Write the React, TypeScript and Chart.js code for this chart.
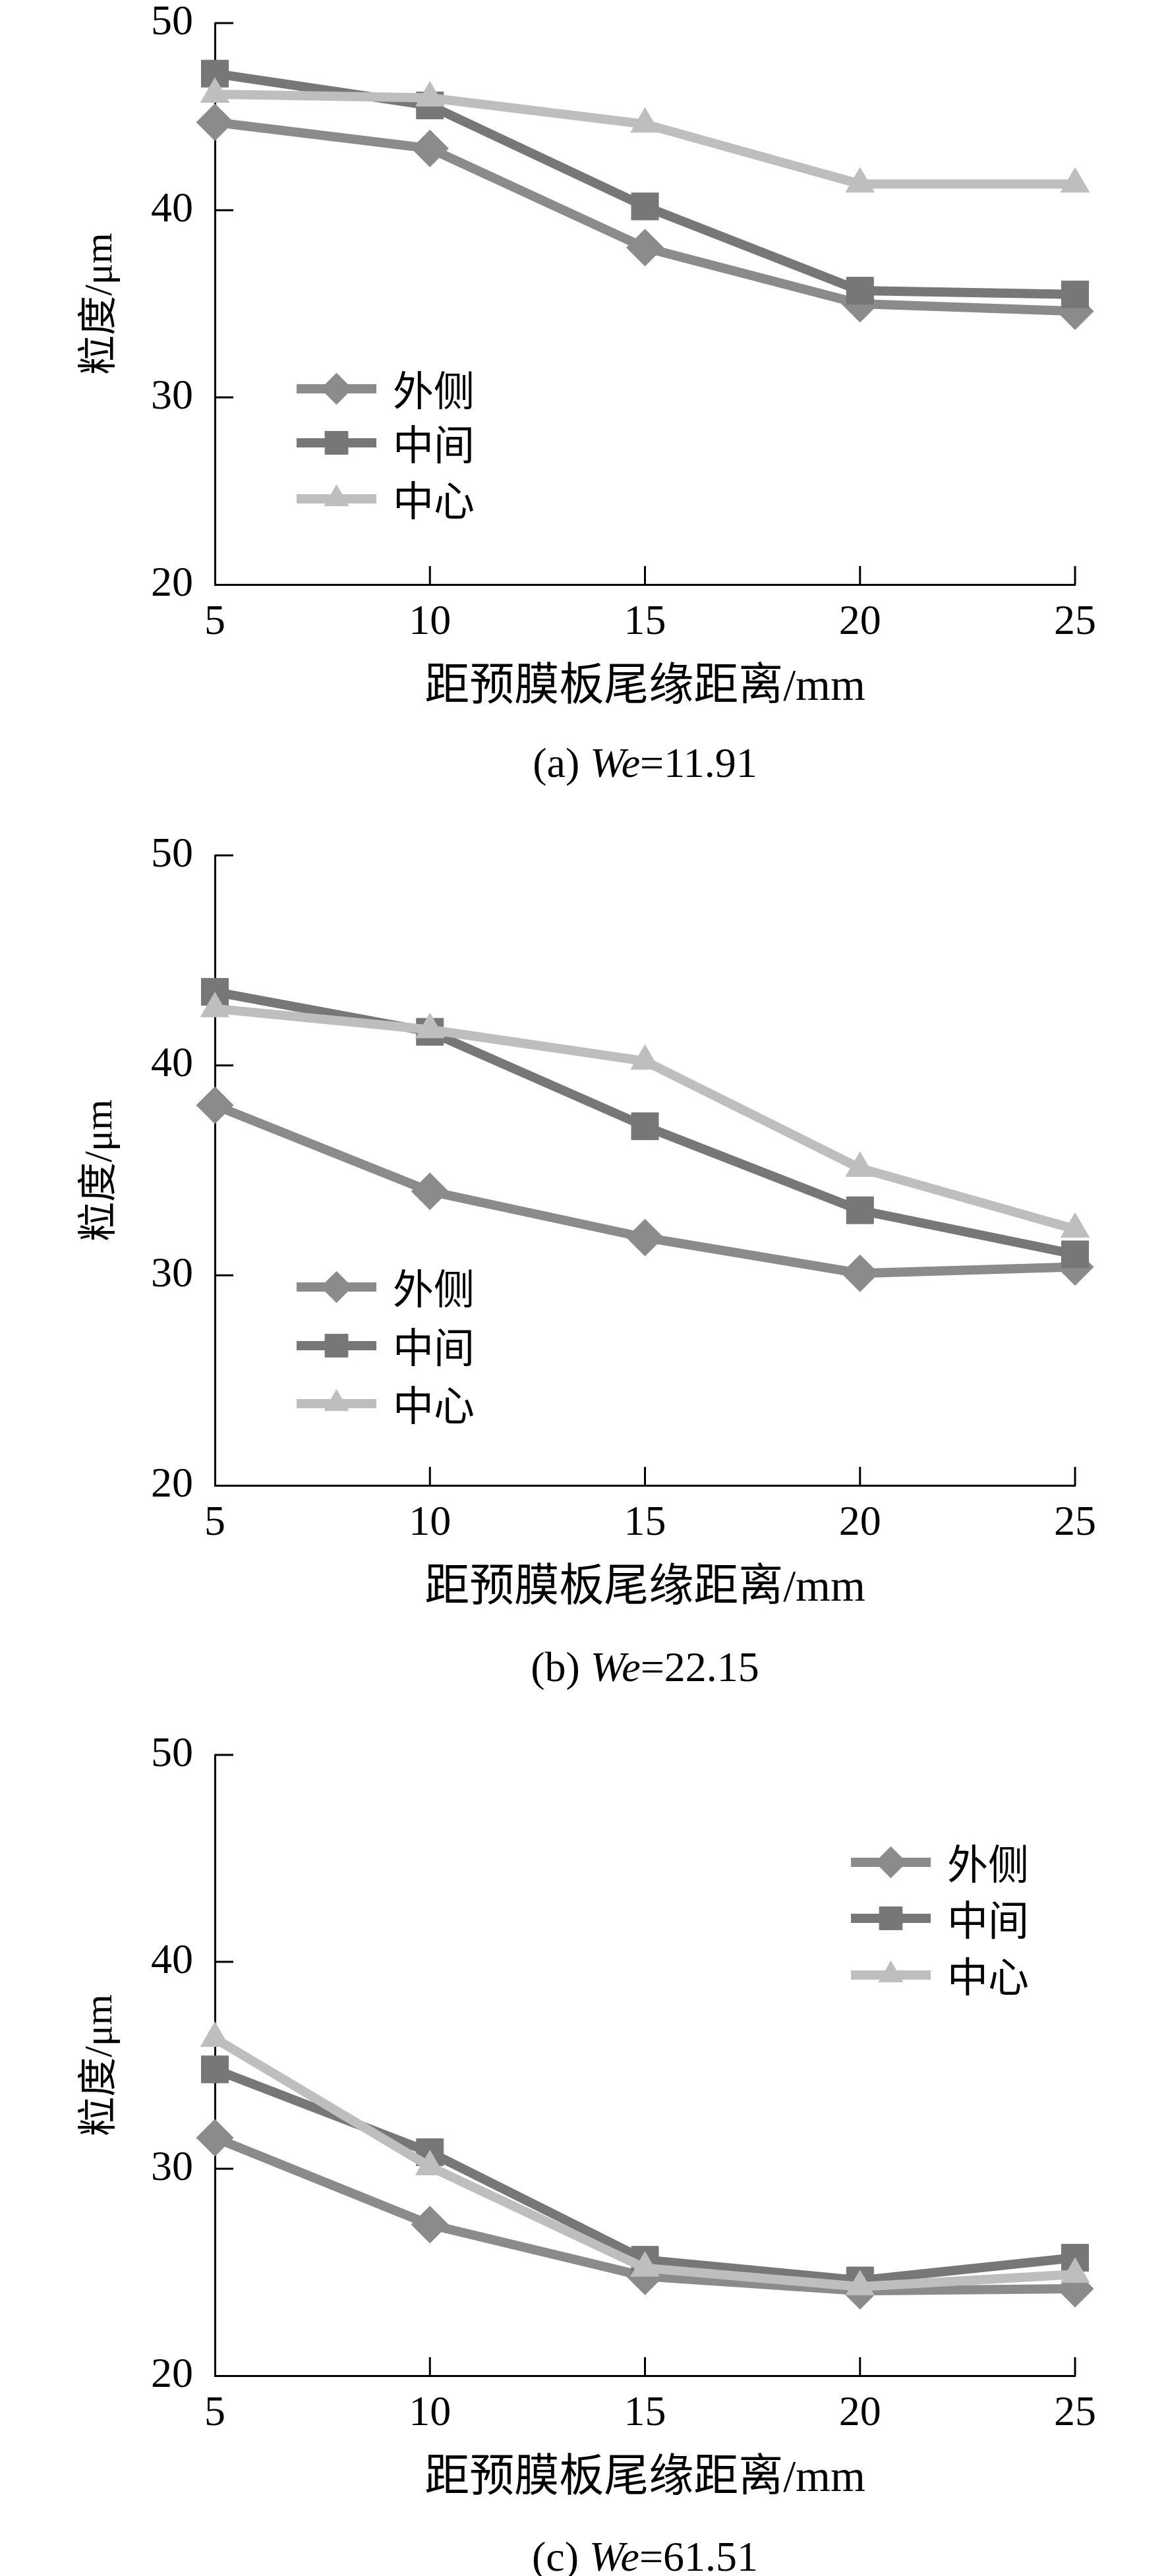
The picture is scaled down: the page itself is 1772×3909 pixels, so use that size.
import React, { useEffect, useRef } from 'react';
import { Chart, registerables } from 'chart.js';
import { drawPoint } from 'chart.js/helpers';

Chart.register(...registerables);

// ============================================
// DATA
// ============================================
const distances = [5, 10, 15, 20, 25];
const yTicks = [20, 30, 40, 50];
const seriesNames = ['外侧', '中间', '中心'];

// (a) We=11.91
const outerA = [44.7, 43.3, 38.0, 35.0, 34.6];
const middleA = [47.3, 45.6, 40.2, 35.7, 35.5];
const centerA = [46.2, 46.0, 44.6, 41.4, 41.4];

// (b) We=22.15
const outerB = [38.1, 34.0, 31.8, 30.1, 30.4];
const middleB = [43.5, 41.6, 37.1, 33.1, 31.0];
const centerB = [42.7, 41.7, 40.2, 35.1, 32.2];

// (c) We=61.51
const outerC = [31.5, 27.3, 24.8, 24.1, 24.2];
const middleC = [34.8, 30.8, 25.6, 24.6, 25.7];
const centerC = [36.3, 30.1, 25.2, 24.3, 24.9];

// ============================================
// LAYOUT / STYLE
// ============================================
const WIDTH = 1772;
const PLOT_LEFT = 326;
const PLOT_RIGHT = 1631;
const PAD_TOP = 35;
const X_AXIS_H = 191;
const TICK_LEN = 28;

const FONT = "'Liberation Serif', 'Noto Sans CJK SC', serif";
const CJK_FONT = "'Noto Sans CJK SC', 'Liberation Serif', sans-serif";

const seriesStyles = [
  { color: '#8b8b8b', pointStyle: 'rectRot', radius: 28 },
  { color: '#777777', pointStyle: 'rect', radius: 29 },
  { color: '#bebebe', pointStyle: 'triangle', radius: 25 },
];

interface PanelDef {
  plotTop: number;
  plotBottom: number;
  series: number[][];
  label: string;
  we: string;
  captionY: number;
  legendX: number;
  legendRows: number[];
}

const panels: PanelDef[] = [
  {
    plotTop: 35, plotBottom: 887, series: [outerA, middleA, centerA],
    label: '(a)', we: '11.91', captionY: 1158,
    legendX: 450, legendRows: [590, 672, 757],
  },
  {
    plotTop: 1298, plotBottom: 2254, series: [outerB, middleB, centerB],
    label: '(b)', we: '22.15', captionY: 2530,
    legendX: 450, legendRows: [690, 779, 867],
  },
  {
    plotTop: 2663, plotBottom: 3605, series: [outerC, middleC, centerC],
    label: '(c)', we: '61.51', captionY: 3880,
    legendX: 1291, legendRows: [198, 283, 369],
  },
];

// ============================================
// PLUGINS
// ============================================
// tick marks pointing into the plot, as in the original figure
const innerTicks = {
  id: 'innerTicks',
  afterDraw(chart: Chart) {
    const { ctx, chartArea, scales } = chart;
    const xs = scales.x;
    const ys = scales.y;
    ctx.save();
    ctx.strokeStyle = '#000';
    ctx.lineWidth = 3;
    ctx.beginPath();
    xs.ticks.forEach((t) => {
      if (t.value === xs.min) return;
      const px = xs.getPixelForValue(t.value);
      ctx.moveTo(px, chartArea.bottom);
      ctx.lineTo(px, chartArea.bottom - TICK_LEN);
    });
    ys.ticks.forEach((t) => {
      if (t.value === ys.min) return;
      const py = ys.getPixelForValue(t.value);
      ctx.moveTo(chartArea.left, py);
      ctx.lineTo(chartArea.left + TICK_LEN, py);
    });
    ctx.stroke();
    ctx.restore();
  },
};

// legend entry = line sample with its marker, then the name
const makeSeriesKey = (x: number, rows: number[]) => ({
  id: 'seriesKey',
  afterDraw(chart: Chart) {
    const { ctx } = chart;
    const lineLen = 121;
    ctx.save();
    chart.data.datasets.forEach((ds: any, i: number) => {
      const y = rows[i];
      ctx.strokeStyle = ds.borderColor;
      ctx.lineWidth = ds.borderWidth;
      ctx.lineCap = 'butt';
      ctx.beginPath();
      ctx.moveTo(x, y);
      ctx.lineTo(x + lineLen, y);
      ctx.stroke();

      ctx.fillStyle = ds.borderColor;
      ctx.strokeStyle = ds.borderColor;
      ctx.lineWidth = 1;
      drawPoint(ctx, { pointStyle: ds.pointStyle, radius: ds.pointRadius * 0.85, borderWidth: 1, rotation: 0 } as any, x + lineLen / 2, y);

      ctx.fillStyle = '#000';
      ctx.font = `62px ${CJK_FONT}`;
      ctx.textAlign = 'left';
      ctx.textBaseline = 'middle';
      ctx.fillText(ds.label, x + 146, y + 2);
    });
    ctx.restore();
  },
});

// ============================================
// PANEL
// ============================================
const LinePanel: React.FC<{ panel: PanelDef }> = ({ panel }) => {
  const canvasRef = useRef<HTMLCanvasElement>(null);
  const canvasTop = panel.plotTop - PAD_TOP;
  const height = panel.plotBottom - panel.plotTop + PAD_TOP + X_AXIS_H;

  useEffect(() => {
    let chart: Chart | null = null;
    let cancelled = false;

    const build = () => {
      if (cancelled || !canvasRef.current) return;
      chart = new Chart(canvasRef.current, {
        type: 'line',
        data: {
          datasets: panel.series.map((vals, i) => ({
            label: seriesNames[i],
            data: distances.map((x, j) => ({ x, y: vals[j] })),
            borderColor: seriesStyles[i].color,
            backgroundColor: seriesStyles[i].color,
            borderWidth: 14,
            pointStyle: seriesStyles[i].pointStyle as any,
            pointRadius: seriesStyles[i].radius,
            pointBackgroundColor: seriesStyles[i].color,
            pointBorderColor: seriesStyles[i].color,
            pointBorderWidth: 1,
            tension: 0,
            clip: false as any,
            order: 2 - i,
          })),
        },
        options: {
          animation: false,
          responsive: false,
          devicePixelRatio: 1,
          events: [],
          layout: { padding: { top: PAD_TOP, right: WIDTH - PLOT_RIGHT, bottom: 0, left: 0 } },
          plugins: {
            legend: { display: false },
            tooltip: { enabled: false },
          },
          scales: {
            x: {
              type: 'linear',
              min: distances[0],
              max: distances[distances.length - 1],
              z: 1,
              grid: { display: false },
              border: { display: true, color: '#000', width: 3 },
              afterBuildTicks: (s: any) => { s.ticks = distances.map((v) => ({ value: v })); },
              afterFit: (s: any) => { s.height = X_AXIS_H; },
              ticks: {
                color: '#000',
                padding: 18,
                maxRotation: 0,
                autoSkip: false,
                font: { family: FONT, size: 64, lineHeight: 1 },
              },
              title: {
                display: true,
                text: '距预膜板尾缘距离/mm',
                color: '#000',
                padding: 0,
                font: { family: FONT, size: 68, lineHeight: 1 },
              },
            },
            y: {
              type: 'linear',
              min: yTicks[0],
              max: yTicks[yTicks.length - 1],
              z: 1,
              grid: { display: false },
              border: { display: true, color: '#000', width: 3 },
              afterBuildTicks: (s: any) => { s.ticks = yTicks.map((v) => ({ value: v })); },
              afterFit: (s: any) => {
                s.width = PLOT_LEFT;
                s.paddingTop = 0;
                s.paddingBottom = 0;
              },
              ticks: {
                color: '#000',
                padding: 25,
                font: { family: FONT, size: 64, lineHeight: 1 },
              },
              title: {
                display: true,
                text: '粒度/μm',
                color: '#000',
                padding: { top: 123, bottom: 0 },
                font: { family: FONT, size: 60, lineHeight: 1 },
              },
            },
          },
        },
        plugins: [innerTicks, makeSeriesKey(panel.legendX, panel.legendRows)],
      });
    };

    Promise.all([
      document.fonts.load(`64px "Liberation Serif"`),
      document.fonts.load(`64px "Noto Sans CJK SC"`, '粒度距预膜板尾缘离外侧中间心'),
    ]).then(build, build);

    return () => {
      cancelled = true;
      if (chart) chart.destroy();
    };
  }, [panel]);

  return (
    <>
      <canvas
        ref={canvasRef}
        width={WIDTH}
        height={height}
        style={{ position: 'absolute', left: 0, top: canvasTop, width: WIDTH, height }}
      />
      <div
        style={{
          position: 'absolute',
          left: PLOT_LEFT,
          width: PLOT_RIGHT - PLOT_LEFT,
          top: panel.captionY - 32,
          height: 64,
          lineHeight: '64px',
          fontSize: 64,
          fontFamily: FONT,
          textAlign: 'center',
          color: '#000',
          whiteSpace: 'nowrap',
        }}
      >
        {panel.label} <i>We</i>={panel.we}
      </div>
    </>
  );
};

// ============================================
// MAIN
// ============================================
const App: React.FC = () => (
  <div style={{ position: 'absolute', left: 0, top: 0, width: WIDTH, height: 3909, background: '#fff', overflow: 'hidden' }}>
    {panels.map((p) => (
      <LinePanel key={p.label} panel={p} />
    ))}
  </div>
);

export default App;
